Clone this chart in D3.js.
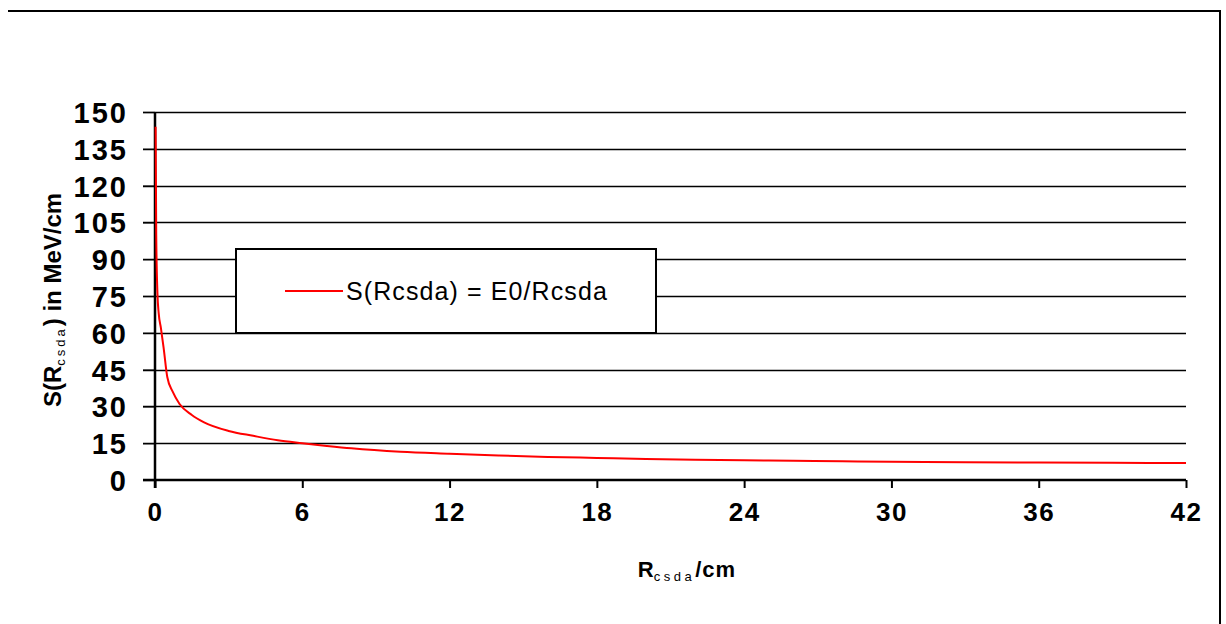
<!DOCTYPE html>
<html>
<head>
<meta charset="utf-8">
<script src="https://cdn.jsdelivr.net/npm/d3@7"></script>
<style>
  html, body { margin: 0; padding: 0; background: #fff; }
  svg { display: block; font-family: "Liberation Sans", Arial, sans-serif; }
</style>
</head>
<body>
<svg id="chart" width="1226" height="624"></svg>
<script>
// ---- data ----
const rangeCm = [0.025, 0.05, 0.1, 0.15, 0.24, 0.35, 0.5, 0.72, 1.0, 1.5, 2, 3, 4, 5, 6, 7, 8, 10, 12, 14, 16, 18, 20, 22, 24, 26, 28, 30, 33, 36, 39, 42];
const stopping = [144, 100, 76, 68, 62, 54, 42, 36, 31, 26.5, 23.5, 20, 18, 16.2, 15, 13.9, 12.9, 11.5, 10.7, 10.0, 9.4, 9.0, 8.6, 8.3, 8.05, 7.85, 7.6, 7.45, 7.25, 7.1, 7.0, 6.9];
const xTickValues = [0, 6, 12, 18, 24, 30, 36, 42];
const yTickValues = [0, 15, 30, 45, 60, 75, 90, 105, 120, 135, 150];
const seriesName = "S(Rcsda) = E0/Rcsda";

// ---- layout ----
const svg = d3.select("#chart");
const W = 1226, H = 624;
svg.append("rect").attr("width", W).attr("height", H).attr("fill", "#fff");

const x = d3.scaleLinear().domain([0, 42]).range([155, 1186]);
const y = d3.scaleLinear().domain([0, 150]).range([480, 112]);

// outer frame (top and right only)
svg.append("path")
  .attr("d", `M8,11H1220V${H}`)
  .attr("fill", "none").attr("stroke", "#000").attr("stroke-width", 2);

// gridlines
svg.append("g").selectAll("line")
  .data(yTickValues.filter(v => v !== 0))
  .join("line")
  .attr("x1", 143).attr("x2", x(42))
  .attr("y1", d => Math.round(y(d)) + 0.5).attr("y2", d => Math.round(y(d)) + 0.5)
  .attr("stroke", "#000").attr("stroke-width", 1.3);

// y axis
const yAxis = d3.axisLeft(y).tickValues(yTickValues).tickSize(12).tickPadding(15).tickFormat(d3.format("d"));
const gy = svg.append("g").attr("transform", `translate(${x(0)},0)`).call(yAxis);
gy.select(".domain").remove();
gy.selectAll(".tick line").attr("stroke", "#000").attr("stroke-width", 1.3);
gy.selectAll(".tick text")
  .attr("fill", "#000").attr("font-size", 29).attr("font-weight", "bold")
  .attr("font-family", "Liberation Sans, Arial, sans-serif")
  .attr("letter-spacing", "2px").attr("dy", "0.36em");

// x axis
const xAxis = d3.axisBottom(x).tickValues(xTickValues).tickSize(8).tickPadding(15).tickFormat(d3.format("d"));
const gx = svg.append("g").attr("transform", `translate(0,${y(0)})`).call(xAxis);
gx.select(".domain").remove();
gx.selectAll(".tick line").attr("stroke", "#000").attr("stroke-width", 2);
gx.selectAll(".tick text")
  .attr("fill", "#000").attr("font-size", 26).attr("font-weight", "bold")
  .attr("font-family", "Liberation Sans, Arial, sans-serif")
  .attr("letter-spacing", "1.5px");

// axis lines
svg.append("line").attr("x1", 143).attr("x2", x(42)).attr("y1", y(0)).attr("y2", y(0))
  .attr("stroke", "#000").attr("stroke-width", 2.5);
svg.append("line").attr("x1", x(0)).attr("x2", x(0)).attr("y1", y(150)).attr("y2", y(0) + 8)
  .attr("stroke", "#000").attr("stroke-width", 2.5);

// curve
const pts = rangeCm.map((r, i) => [r, stopping[i]]);
svg.append("path")
  .datum(pts)
  .attr("fill", "none").attr("stroke", "#ff0000").attr("stroke-width", 2)
  .attr("d", d3.line().x(d => x(d[0])).y(d => y(d[1])).curve(d3.curveMonotoneX));

// legend
const lg = svg.append("g");
lg.append("rect").attr("x", 236).attr("y", 249).attr("width", 420).attr("height", 84)
  .attr("fill", "#fff").attr("stroke", "#000").attr("stroke-width", 2);
lg.append("line").attr("x1", 285).attr("x2", 343).attr("y1", 291).attr("y2", 291)
  .attr("stroke", "#ff0000").attr("stroke-width", 2);
lg.append("text").attr("x", 346).attr("y", 300)
  .attr("font-size", 25).attr("letter-spacing", "1.1px").attr("fill", "#000")
  .text(seriesName);

// y axis title
const yt = svg.append("text")
  .attr("transform", "translate(61,300) rotate(-90)")
  .attr("text-anchor", "middle")
  .attr("font-size", 24).attr("font-weight", "bold").attr("fill", "#000");
yt.append("tspan").text("S(R");
yt.append("tspan").attr("font-size", 13).attr("font-weight", "normal").attr("letter-spacing", "3px").attr("dy", 4).text("csda");
yt.append("tspan").attr("dy", -4).text(") in MeV/cm");

// x axis title
const xt = svg.append("text")
  .attr("x", 687).attr("y", 577)
  .attr("text-anchor", "middle")
  .attr("font-size", 22).attr("font-weight", "bold").attr("fill", "#000");
xt.append("tspan").text("R");
xt.append("tspan").attr("font-size", 13).attr("font-weight", "normal").attr("letter-spacing", "3.5px").attr("dy", 4).text("csda");
xt.append("tspan").attr("dy", -4).attr("letter-spacing", "1px").text("/cm");
</script>
</body>
</html>
